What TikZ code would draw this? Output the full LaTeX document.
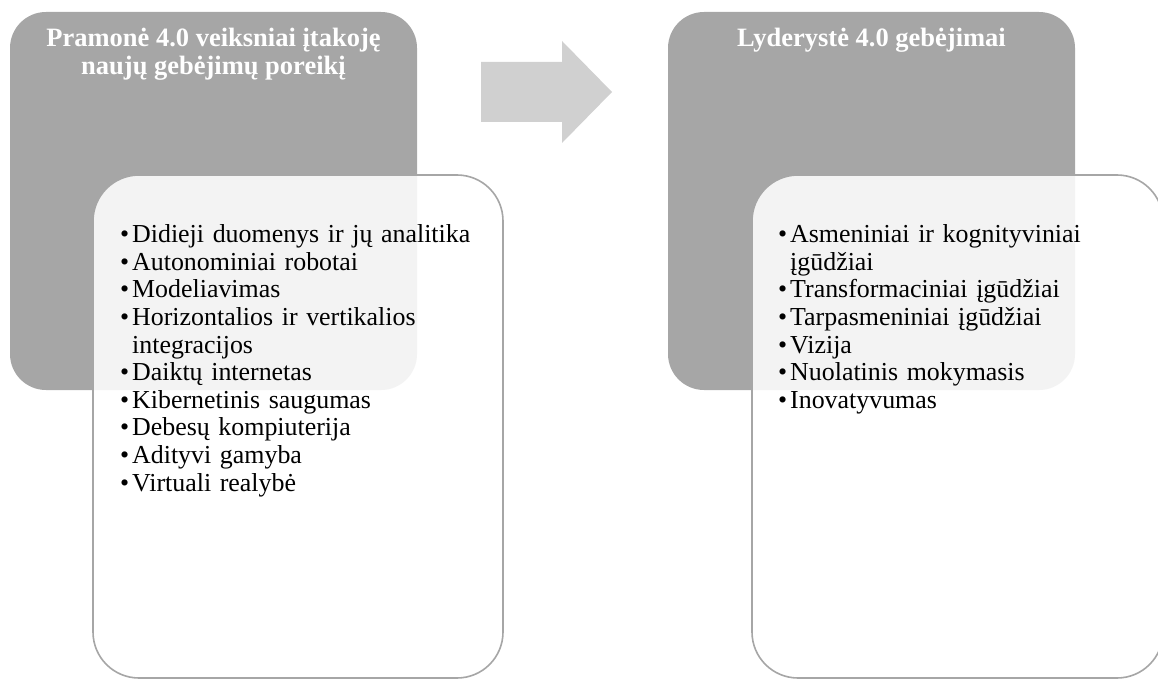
\documentclass[tikz,border=0pt]{standalone}
\usepackage{fontspec}
\setmainfont{Liberation Serif}
\definecolor{backgray}{HTML}{A6A6A6}
\definecolor{linegray}{HTML}{A6A6A6}
\definecolor{arrowgray}{HTML}{D0D0D0}
\newlength\bulletbox
\setlength\bulletbox{12pt}
\newcommand\bitem[1]{\par\hangindent=\bulletbox\hangafter=1\noindent\makebox[\bulletbox][l]{\textbullet}#1}
\begin{document}
\begin{tikzpicture}[x=1pt,y=-1pt,
  backbox/.style={fill=backgray, rounded corners=36pt},
  frontbox/.style={draw=linegray, line width=1.6pt, fill=white, fill opacity=0.87, rounded corners=46pt},
  heading/.style={text=white, font=\fontsize{26.5}{28}\selectfont\bfseries, align=center, inner sep=0pt, anchor=base},
  listtext/.style={font=\fontsize{25.9}{27.6}\selectfont, text width=420pt, inner sep=0pt, anchor=base west, align=left}
]
\useasboundingbox (0,0) rectangle (1158,679);

% back panels
\fill[backbox] (10,12) rectangle (417,390);
\fill[backbox] (668,12) rectangle (1075,390);

% arrow between the panels
\fill[arrowgray] (481,62) -- (562,62) -- (562,41) -- (612,92) -- (562,143) -- (562,122) -- (481,122) -- cycle;

% front panels
\path[frontbox] (93,175) rectangle (503,678);
\path[frontbox] (752,175) rectangle (1163,678);

% headings (base anchor sits on the last line)
\node[heading] (lefthead) at (213.5,75) {Pramonė 4.0 veiksniai įtakoję\\naujų gebėjimų poreikį};
\node[heading] (righthead) at (871.5,47) {Lyderystė 4.0 gebėjimai};

% lists
\node[listtext] (leftlist) at (120,215) {%
\bitem{Didieji duomenys ir jų analitika}
\bitem{Autonominiai robotai}
\bitem{Modeliavimas}
\bitem{Horizontalios ir vertikalios\newline integracijos}
\bitem{Daiktų internetas}
\bitem{Kibernetinis saugumas}
\bitem{Debesų kompiuterija}
\bitem{Adityvi gamyba}
\bitem{Virtuali realybė}};

\node[listtext] (rightlist) at (778,215) {%
\bitem{Asmeniniai ir kognityviniai\newline įgūdžiai}
\bitem{Transformaciniai įgūdžiai}
\bitem{Tarpasmeniniai įgūdžiai}
\bitem{Vizija}
\bitem{Nuolatinis mokymasis}
\bitem{Inovatyvumas}};
\end{tikzpicture}
\end{document}
